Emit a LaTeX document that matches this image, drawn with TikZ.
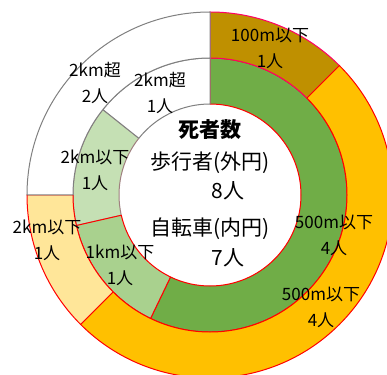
\documentclass[tikz,border=0pt]{standalone}
\usepackage{fontspec}
\setmainfont{Noto Sans CJK JP}
\definecolor{ring100}{HTML}{BF9000}
\definecolor{ring500}{HTML}{FFC000}
\definecolor{ring2km}{HTML}{FFE699}
\definecolor{in500}{HTML}{70AD47}
\definecolor{in1km}{HTML}{A9D18E}
\definecolor{in2km}{HTML}{C5E0B4}
\definecolor{pinkline}{HTML}{FF0066}
\definecolor{mauveline}{HTML}{A08080}
\begin{document}
\begin{tikzpicture}[x=1pt,y=1pt,
   seg/.style={line width=1pt, draw=red, line join=round},
   greyseg/.style={seg, draw=gray},
   every node/.style={align=center, font=\fontsize{17}{26}\selectfont},
   big/.style={font=\fontsize{21}{25}\selectfont}]

\clip (-210,-179) rectangle (177,195);

% inner ring (bicycles)
\filldraw[seg, draw=mauveline, fill=in2km] (192.86:91pt) arc (192.86:141.43:91pt) -- (141.43:137pt) arc (141.43:192.86:137pt) -- cycle;
\filldraw[seg, fill=in500] (90:91pt) arc (90:-115.71:91pt) -- (-115.71:137pt) arc (-115.71:90:137pt) -- cycle;
\filldraw[seg, fill=in1km] (-115.71:91pt) arc (-115.71:-167.14:91pt) -- (-167.14:137pt) arc (-167.14:-115.71:137pt) -- cycle;

% outer ring (pedestrians)
\filldraw[seg, draw=pinkline, fill=ring100] (90:137pt) arc (90:45:137pt) -- (45:183pt) arc (45:90:183pt) -- cycle;
\filldraw[seg, fill=ring500] (45:137pt) arc (45:-135:137pt) -- (-135:183pt) arc (-135:45:183pt) -- cycle;
\filldraw[seg, fill=ring2km] (-135:137pt) arc (-135:-180:137pt) -- (-180:183pt) arc (-180:-135:183pt) -- cycle;

% white parts
\filldraw[greyseg, fill=white] (141.43:91pt) arc (141.43:90:91pt) -- (90:137pt) arc (90:141.43:137pt) -- cycle;
\filldraw[greyseg, fill=white] (180:137pt) arc (180:90:137pt) -- (90:183pt) arc (90:180:183pt) -- cycle;

% labels
\node (out100) at (60,147) {100m以下\\1人};
\node (out500) at (111,-112) {500m以下\\4人};
\node (out2km) at (-163,-45) {2km以下\\1人};
\node (outfar) at (-115,112) {2km超\\2人};
\node (in500) at (124,-40) {500m以下\\4人};
\node (in1km) at (-90,-70) {1km以下\\1人};
\node (in2km) at (-115,25) {2km以下\\1人};
\node (infar) at (-50,102) {2km超\\1人};

% centre
\node[big, font=\fontsize{21}{25}\selectfont\bfseries] (title) at (0,65) {死者数};
\node[big] (walk) at (0,32) {歩行者(外円)};
\node[big] (walkn) at (18,4) {8人};
\node[big] (bike) at (0,-34) {自転車(内円)};
\node[big] (biken) at (18,-63) {7人};

\end{tikzpicture}
\end{document}
